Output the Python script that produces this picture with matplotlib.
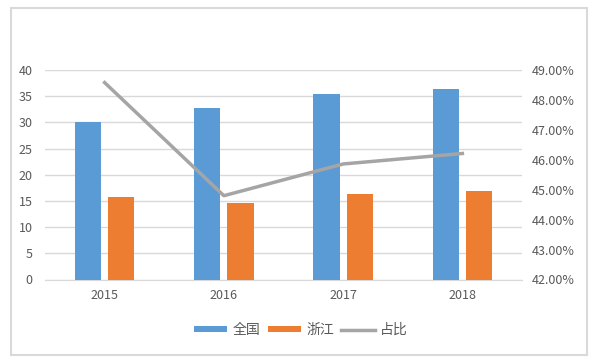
import matplotlib.pyplot as plt
from matplotlib.patches import Rectangle
from matplotlib.ticker import FuncFormatter

plt.rcParams['font.family'] = ['Noto Sans CJK SC', 'DejaVu Sans']

years = ["2015", "2016", "2017", "2018"]
national = [30.1, 32.7, 35.4, 36.3]
zhejiang = [15.7, 14.6, 16.3, 16.9]
share = [48.58, 44.80, 45.86, 46.21]

blue = "#5B9BD5"
orange = "#ED7D31"
gray = "#A5A5A5"
text_c = "#595959"
grid_c = "#D9D9D9"

fig = plt.figure(figsize=(6.02, 3.63), dpi=100)
W, H = 602, 363

# outer chart border
fig.patches.append(Rectangle((11 / W, 1 - 355 / H), 576 / W, 347 / H,
                             transform=fig.transFigure, fill=False,
                             edgecolor=grid_c, linewidth=1.5))

ax = fig.add_axes([45 / W, 1 - 279.5 / H, 477 / W, 209.5 / H])
ax2 = ax.twinx()

x = range(len(years))
bw = 0.22
gap = 0.06
ax.bar([i - (bw + gap) / 2 for i in x], national, width=bw, color=blue, label="全国", zorder=3)
ax.bar([i + (bw + gap) / 2 for i in x], zhejiang, width=bw, color=orange, label="浙江", zorder=3)
ln, = ax2.plot(list(x), share, color=gray, linewidth=2.5, label="占比", zorder=4)

ax.set_xlim(-0.5, 3.5)
ax.set_ylim(0, 40)
ax.set_yticks(range(0, 41, 5))
ax2.set_ylim(42, 49)
ax2.set_yticks(range(42, 50))
ax2.yaxis.set_major_formatter(FuncFormatter(lambda v, p: f"{v:.2f}%"))

ax.set_xticks(list(x))
ax.set_xticklabels(years)
ax.grid(axis="y", color=grid_c, linewidth=1, zorder=0)
ax.set_axisbelow(True)

for a in (ax, ax2):
    for s in a.spines.values():
        s.set_visible(False)
    a.tick_params(length=0, colors=text_c, labelsize=9)
ax.spines["bottom"].set_visible(True)
ax.spines["bottom"].set_color(grid_c)
ax.tick_params(axis="y", pad=9)
ax.tick_params(axis="x", pad=7)
ax2.tick_params(axis="y", pad=7)

handles = [ax.containers[0], ax.containers[1], ln]
fig.legend(handles, ["全国", "浙江", "占比"], loc="center", bbox_to_anchor=(0.5, 1 - 330 / H),
           ncol=3, frameon=False, fontsize=10, labelcolor=text_c,
           handlelength=2.4, handleheight=0.35, handletextpad=0.4, columnspacing=0.5)

fig.savefig("out.png", dpi=100)
